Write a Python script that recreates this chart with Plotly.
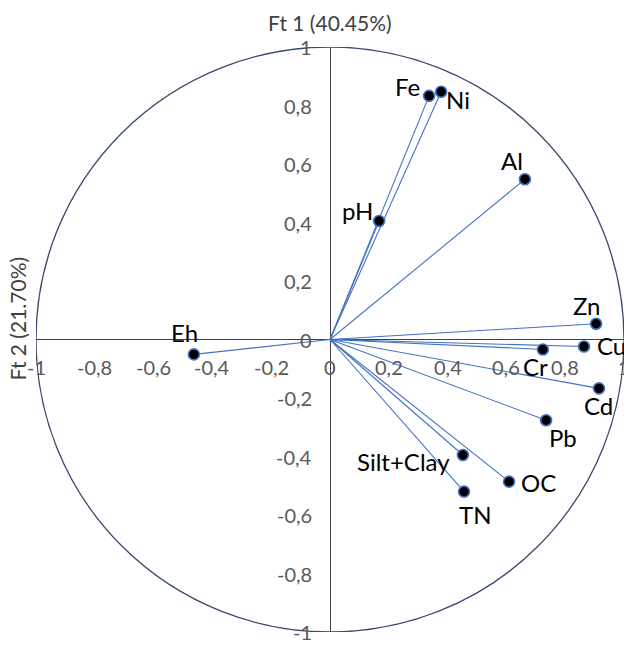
import plotly.graph_objects as go

# Correlation circle: variable loadings on factors F1 / F2
variables = ["Fe", "Ni", "pH", "Al", "Zn", "Cu", "Cr", "Cd", "Pb",
             "Silt+Clay", "OC", "TN", "Eh"]
f1 = [0.337, 0.378, 0.167, 0.663, 0.905, 0.864, 0.724, 0.915, 0.735,
      0.452, 0.609, 0.456, -0.463]
f2 = [0.833, 0.847, 0.405, 0.548, 0.054, -0.024, -0.034, -0.167, -0.276,
      -0.395, -0.486, -0.520, -0.051]

tick_vals = [-1, -0.8, -0.6, -0.4, -0.2, 0, 0.2, 0.4, 0.6, 0.8, 1]
tick_text = ["-1", "-0,8", "-0,6", "-0,4", "-0,2", "0", "0,2", "0,4", "0,6", "0,8", "1"]

x_title = "Ft 1 (40.45%)"
y_title = "Ft 2 (21.70%)"

# label placement (pixel offsets from each point)
label_offsets = {
    "Fe": (-22, 9), "Ni": (17, -8), "pH": (-22, 11), "Al": (-13, 19),
    "Zn": (-9, 18), "Cu": (27, 1), "Cr": (-7, -17), "Cd": (-1, -17),
    "Pb": (17, -17), "Silt+Clay": (-59, -6), "OC": (29, -1),
    "TN": (11, -23), "Eh": (-9, 22),
}

BLUE = "#4472C4"
FONT = "Lato, 'Open Sans', sans-serif"

# vectors from the origin to each variable
vx, vy = [], []
for a, b in zip(f1, f2):
    vx += [0, a, None]
    vy += [0, b, None]

fig = go.Figure()
fig.add_shape(type="circle", xref="x", yref="y", x0=-1, y0=-1, x1=1, y1=1,
              line=dict(color="#3A4A6E", width=1.3), layer="below")
fig.add_trace(go.Scatter(x=vx, y=vy, mode="lines",
                         line=dict(color=BLUE, width=1.1),
                         hoverinfo="skip", showlegend=False))
fig.add_trace(go.Scatter(x=f1, y=f2, mode="markers", text=variables,
                         marker=dict(size=11, color="black",
                                     line=dict(color=BLUE, width=1.6)),
                         cliponaxis=False, showlegend=False))

annotations = []
for name, a, b in zip(variables, f1, f2):
    dx, dy = label_offsets[name]
    annotations.append(dict(x=a, y=b, xref="x", yref="y", text=name,
                            showarrow=False, xshift=dx, yshift=dy,
                            font=dict(family=FONT, size=24, color="black")))

# tick labels sit next to the axes through the origin
tick_font = dict(family=FONT, size=20, color="#595959")
for v, t in zip(tick_vals, tick_text):
    annotations.append(dict(x=v, y=0, xref="x", yref="y", text=t,
                            showarrow=False, yshift=-27, font=tick_font))
    annotations.append(dict(x=0, y=v, xref="x", yref="y", text=t,
                            showarrow=False, xanchor="right", xshift=-16,
                            font=tick_font))

title_font = dict(family=FONT, size=21, color="#404040")
annotations.append(dict(x=0, y=1, xref="x", yref="y", text=x_title,
                        showarrow=False, yshift=25, font=title_font))
annotations.append(dict(x=-1, y=0, xref="x", yref="y", text=y_title,
                        showarrow=False, textangle=-90, xshift=-19, yshift=21,
                        font=title_font))

fig.update_layout(
    width=624, height=645,
    margin=dict(l=36, r=0, t=47, b=13),
    paper_bgcolor="white", plot_bgcolor="white",
    annotations=annotations,
    xaxis=dict(range=[-1, 1], showgrid=False, showticklabels=False,
               zeroline=True, zerolinecolor="#404040", zerolinewidth=1.2,
               fixedrange=True),
    yaxis=dict(range=[-1, 1], showgrid=False, showticklabels=False,
               zeroline=True, zerolinecolor="#404040", zerolinewidth=1.2,
               fixedrange=True),
)

fig.write_html("out.html")
